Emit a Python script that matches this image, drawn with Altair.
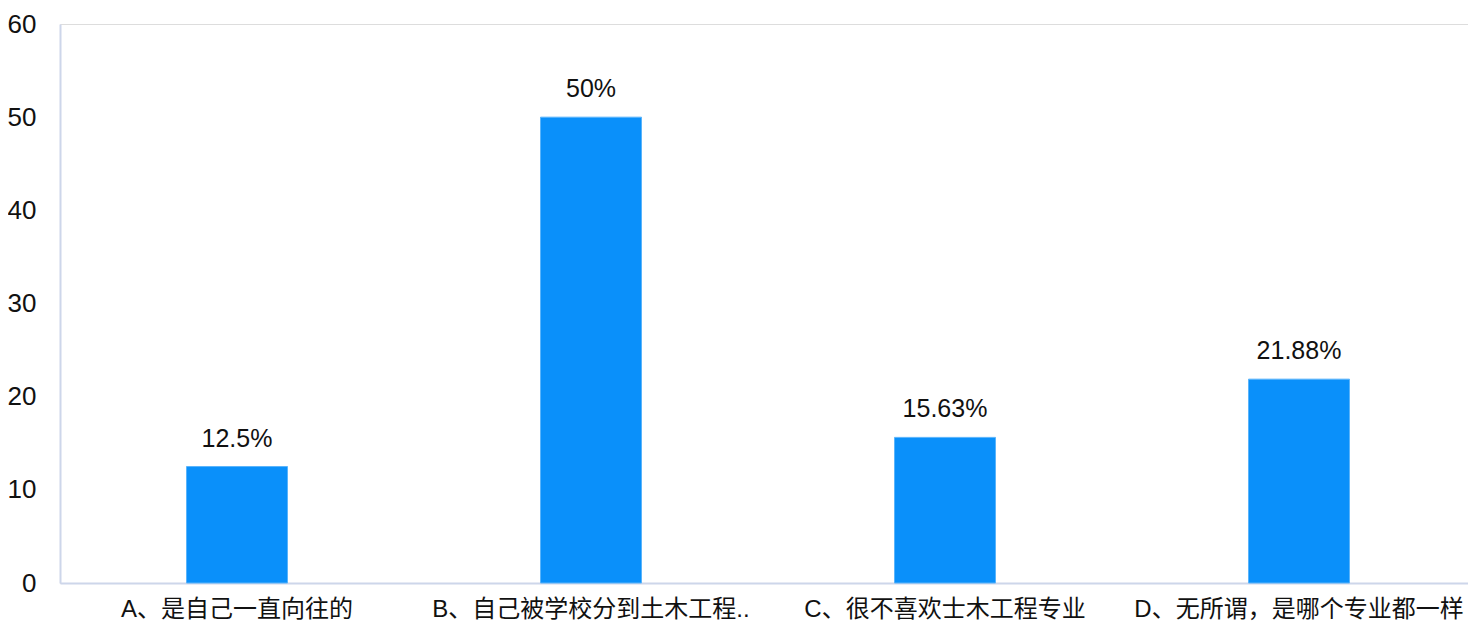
import altair as alt
import pandas as pd

categories = ["A、是自己一直向往的", "B、自己被学校分到土木工程..", "C、很不喜欢士木工程专业", "D、无所谓，是哪个专业都一样"]
values = [12.5, 50, 15.63, 21.88]
labels = ["12.5%", "50%", "15.63%", "21.88%"]

df = pd.DataFrame({"cat": categories, "val": values, "lab": labels})

FONT = "Liberation Sans, Arial, Noto Sans CJK SC"
AXIS_COLOR = "#cdd6ea"

x = alt.X("cat:N", sort=categories, title=None,
          scale=alt.Scale(paddingInner=0, paddingOuter=0, range=[0, 1416]),
          axis=alt.Axis(labelAngle=0, labelFontSize=24, labelFont=FONT, labelColor="#111111",
                        labelPadding=14, ticks=False, grid=False, domainColor=AXIS_COLOR, domainWidth=2,
                        labelLimit=400))
y = alt.Y("val:Q", title=None,
          scale=alt.Scale(domain=[0, 60], nice=False),
          axis=alt.Axis(values=[0, 10, 20, 30, 40, 50, 60], labelFontSize=26, labelFont=FONT,
                        labelColor="#111111", labelPadding=24, ticks=False, grid=False,
                        domainColor=AXIS_COLOR, domainWidth=2))

bars = alt.Chart(df).mark_bar(size=101, color="#0a90fa", stroke="#5ab4fb", strokeWidth=1).encode(x=x, y=y)
text = alt.Chart(df).mark_text(baseline="alphabetic", dy=-20, fontSize=25, font=FONT, color="#111111").encode(
    x=alt.X("cat:N", sort=categories), y="val:Q", text="lab:N")

chart = (bars + text).properties(
    width=1408, height=559,
    autosize=alt.AutoSizeParams(type="none"),
    padding={"left": 52, "top": 16, "right": 0, "bottom": 45},
).configure_view(stroke="transparent", strokeWidth=0).configure(background="white")

chart.save("out.html", embed_options={"renderer": "svg", "actions": False})
